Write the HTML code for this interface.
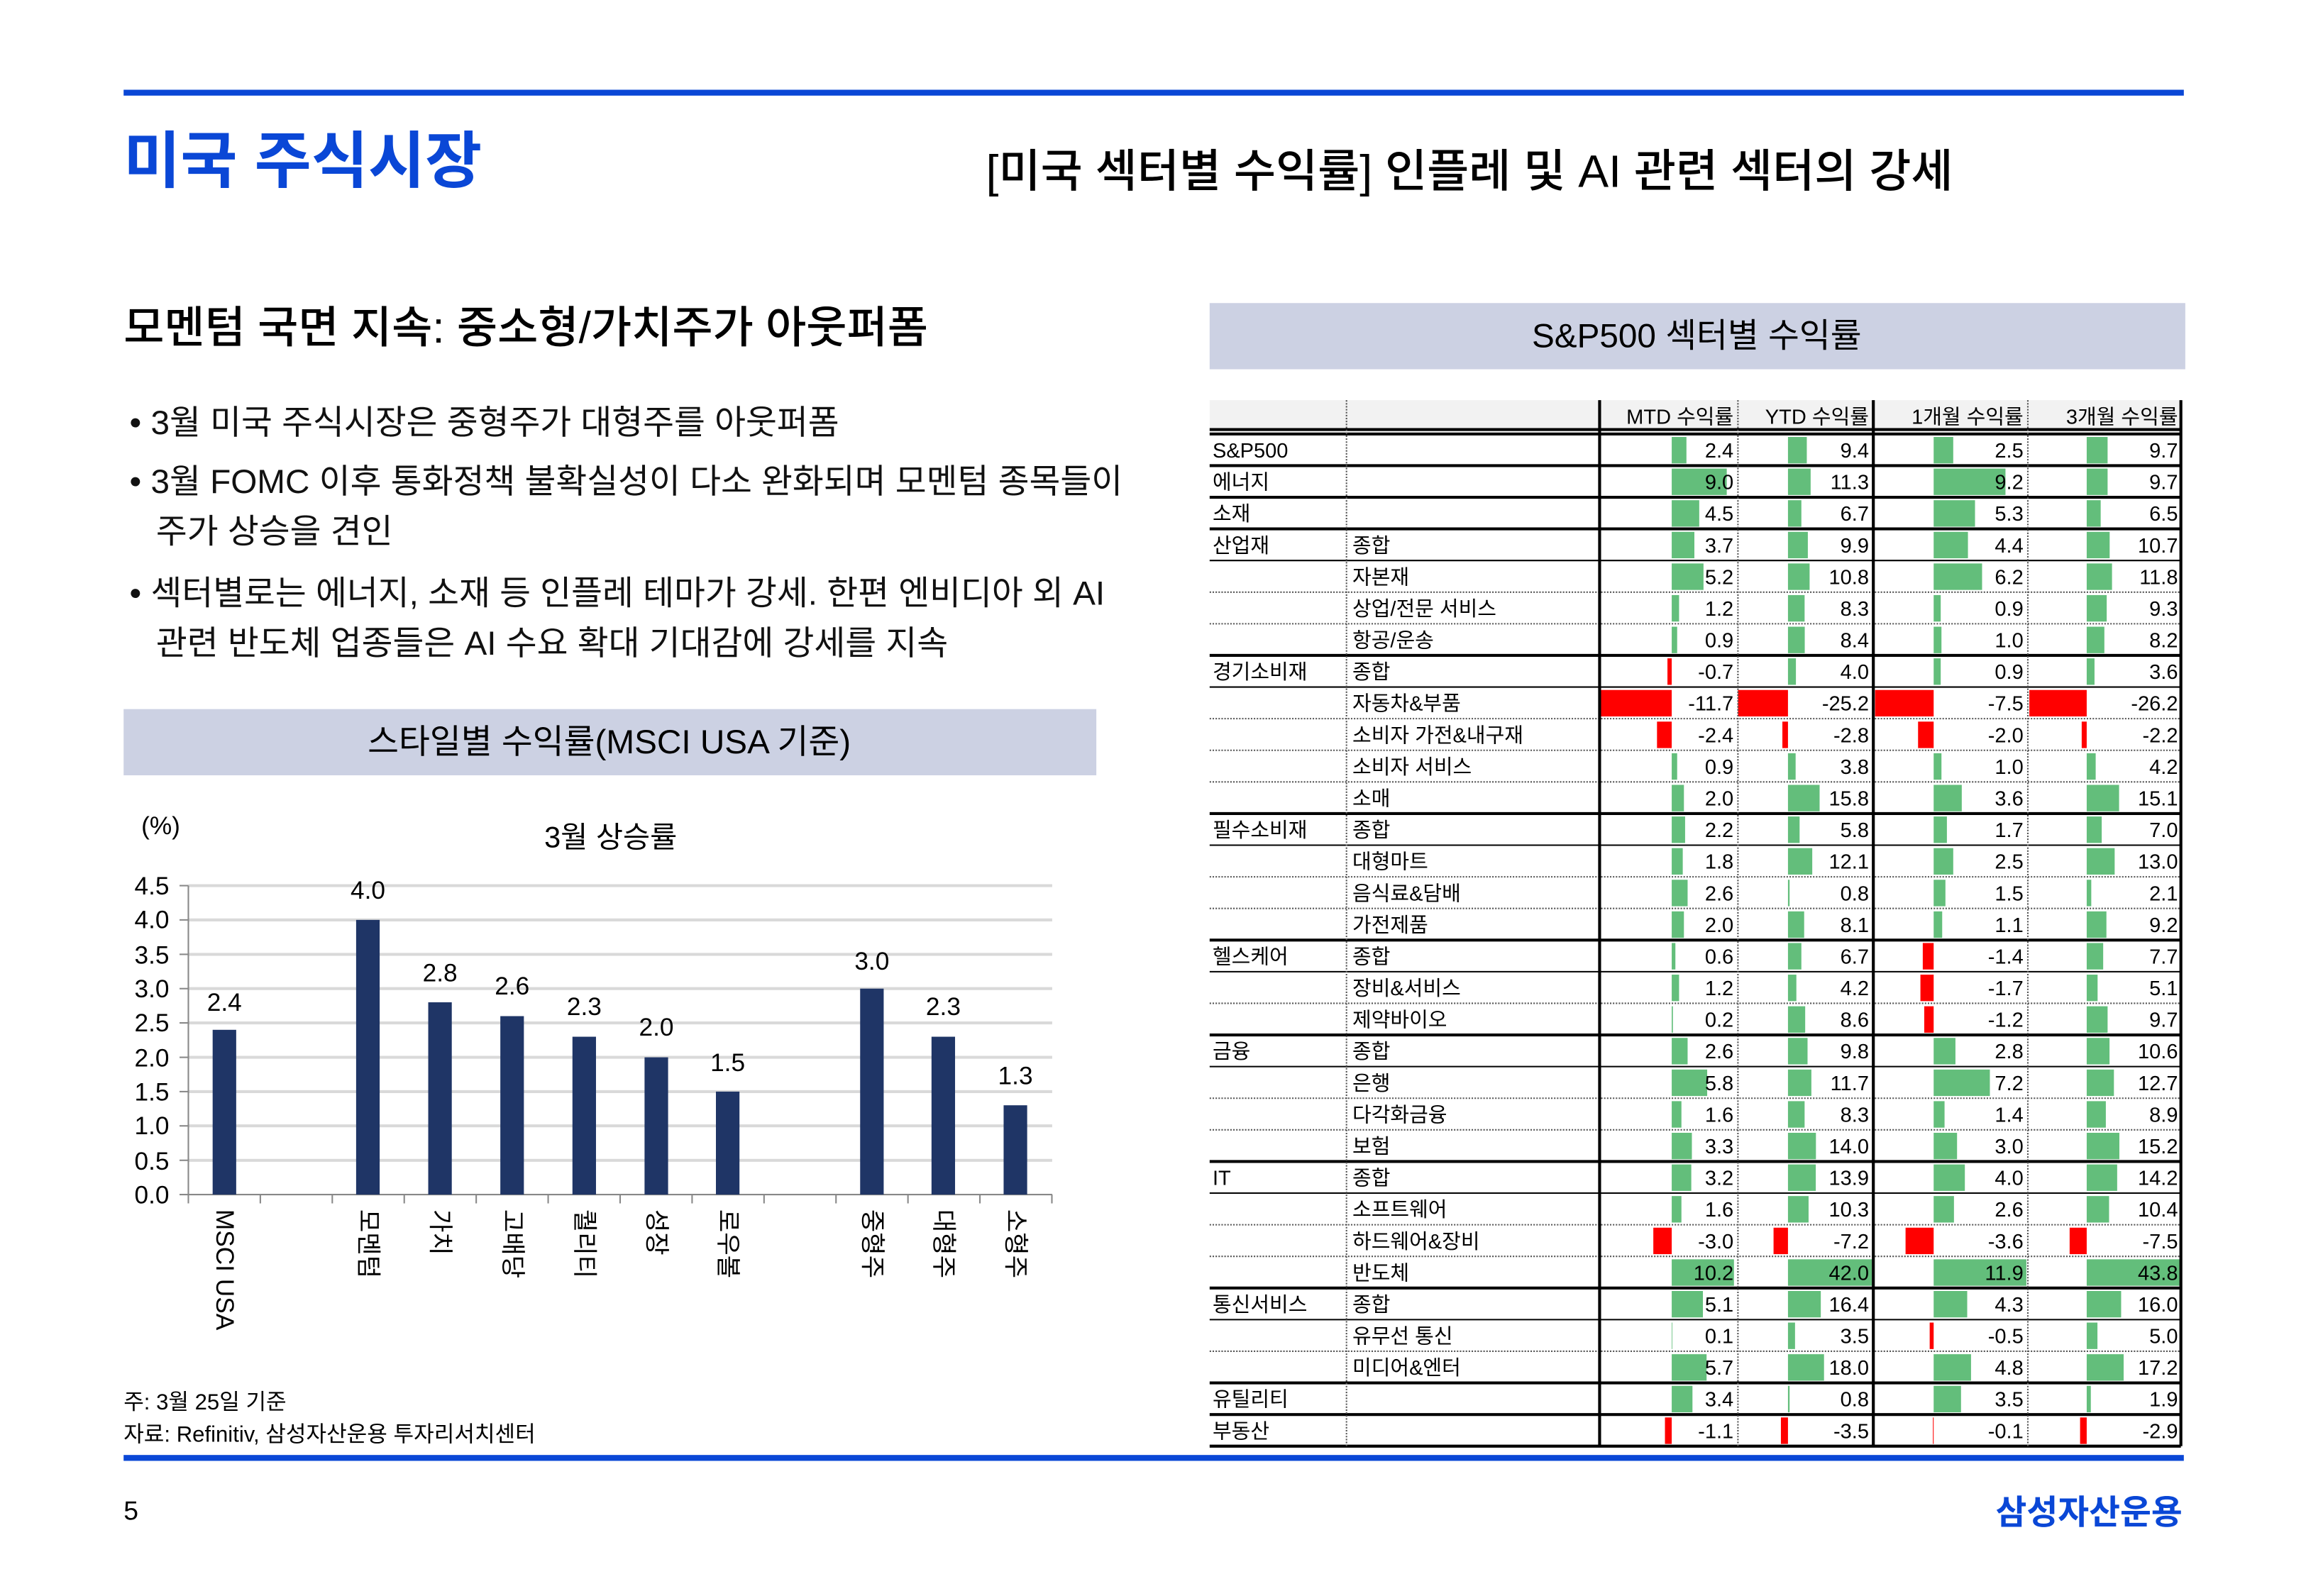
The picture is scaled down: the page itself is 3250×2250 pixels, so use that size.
<!DOCTYPE html>
<html><head><meta charset="utf-8">
<style>
html,body{margin:0;padding:0;background:#fff;}
body{width:3250px;height:2250px;overflow:hidden;}
#w{position:absolute;left:0;top:0;width:1560px;height:1080px;transform:scale(2.074);transform-origin:0 0;}
svg text{font-family:"Liberation Sans","Noto Sans CJK KR",sans-serif;}
.t text{font-family:"Liberation Sans Narrow","Liberation Sans","Noto Sans CJK KR",sans-serif;font-size:14px;fill:#000;}
.t text.v{text-anchor:end;}
.g{fill:#63be7b;}
.r{fill:#ff0000;}
</style></head><body><div id="w">
<svg width="1560" height="1080" viewBox="0 0 1560 1080" xmlns="http://www.w3.org/2000/svg">
<rect x="84" y="61" width="1400" height="4" fill="#0a47d6"/>
<text x="84" y="124" font-size="42" font-weight="bold" fill="#0a47d6">미국 주식시장</text>
<text x="670" y="127" font-size="31" fill="#000" font-weight="500">[미국 섹터별 수익률] 인플레 및 AI 관련 섹터의 강세</text>
<text x="84" y="233" font-size="30" fill="#000" font-weight="500">모멘텀 국면 지속: 중소형/가치주가 아웃퍼폼</text>
<g font-size="23" fill="#111">
<text x="88" y="295">• 3월 미국 주식시장은 중형주가 대형주를 아웃퍼폼</text>
<text x="88" y="335">• 3월 FOMC 이후 통화정책 불확실성이 다소 완화되며 모멘텀 종목들이</text>
<text x="106" y="369">주가 상승을 견인</text>
<text x="88" y="411">• 섹터별로는 에너지, 소재 등 인플레 테마가 강세. 한편 엔비디아 외 AI</text>
<text x="106" y="445">관련 반도체 업종들은 AI 수요 확대 기대감에 강세를 지속</text>
</g>
<rect x="84" y="482" width="661" height="45" fill="#ccd1e3"/>
<text x="414" y="512" font-size="23" text-anchor="middle" fill="#000">스타일별 수익률(MSCI USA 기준)</text>
<!-- bar chart -->
<text x="96" y="567" font-size="17" fill="#000">(%)</text>
<text x="415" y="576" font-size="20" text-anchor="middle" fill="#000">3월 상승률</text>
<g stroke="#d9d9d9" stroke-width="2">
<line x1="128" x2="715" y1="602" y2="602"/><line x1="128" x2="715" y1="625.3" y2="625.3"/><line x1="128" x2="715" y1="648.7" y2="648.7"/><line x1="128" x2="715" y1="672" y2="672"/><line x1="128" x2="715" y1="695.3" y2="695.3"/><line x1="128" x2="715" y1="718.7" y2="718.7"/><line x1="128" x2="715" y1="742" y2="742"/><line x1="128" x2="715" y1="765.3" y2="765.3"/><line x1="128" x2="715" y1="788.7" y2="788.7"/>
</g>
<g font-size="17" text-anchor="end" fill="#000">
<text x="115" y="608">4.5</text><text x="115" y="631">4.0</text><text x="115" y="655">3.5</text><text x="115" y="678">3.0</text><text x="115" y="701">2.5</text><text x="115" y="725">2.0</text><text x="115" y="748">1.5</text><text x="115" y="771">1.0</text><text x="115" y="795">0.5</text><text x="115" y="818">0.0</text>
</g>
<g stroke="#888" stroke-width="1">
<line x1="128" x2="128" y1="602" y2="818"/>
<line x1="122" x2="128" y1="602" y2="602"/><line x1="122" x2="128" y1="625.3" y2="625.3"/><line x1="122" x2="128" y1="648.7" y2="648.7"/><line x1="122" x2="128" y1="672" y2="672"/><line x1="122" x2="128" y1="695.3" y2="695.3"/><line x1="122" x2="128" y1="718.7" y2="718.7"/><line x1="122" x2="128" y1="742" y2="742"/><line x1="122" x2="128" y1="765.3" y2="765.3"/><line x1="122" x2="128" y1="788.7" y2="788.7"/>
<line x1="122" x2="715" y1="812" y2="812"/>
<line x1="176.9" x2="176.9" y1="812" y2="818"/><line x1="225.8" x2="225.8" y1="812" y2="818"/><line x1="274.7" x2="274.7" y1="812" y2="818"/><line x1="323.6" x2="323.6" y1="812" y2="818"/><line x1="372.5" x2="372.5" y1="812" y2="818"/><line x1="421.4" x2="421.4" y1="812" y2="818"/><line x1="470.3" x2="470.3" y1="812" y2="818"/><line x1="519.2" x2="519.2" y1="812" y2="818"/><line x1="568.1" x2="568.1" y1="812" y2="818"/><line x1="617" x2="617" y1="812" y2="818"/><line x1="665.9" x2="665.9" y1="812" y2="818"/><line x1="714.8" x2="714.8" y1="812" y2="818"/>
</g>
<g fill="#1f3566">
<rect x="144.5" y="700" width="16" height="112"/>
<rect x="242" y="625.3" width="16" height="186.7"/>
<rect x="291" y="681.3" width="16" height="130.7"/>
<rect x="340" y="690.7" width="16" height="121.3"/>
<rect x="389" y="704.7" width="16" height="107.3"/>
<rect x="438" y="718.7" width="16" height="93.3"/>
<rect x="486.5" y="742" width="16" height="70"/>
<rect x="584.5" y="672" width="16" height="140"/>
<rect x="633" y="704.7" width="16" height="107.3"/>
<rect x="682" y="751.3" width="16" height="60.7"/>
</g>
<g font-size="17" text-anchor="middle" fill="#000">
<text x="152.5" y="687">2.4</text><text x="250" y="611">4.0</text><text x="299" y="667">2.8</text><text x="348" y="676">2.6</text><text x="397" y="690">2.3</text><text x="446" y="704">2.0</text><text x="494.5" y="728">1.5</text><text x="592.5" y="659">3.0</text><text x="641" y="690">2.3</text><text x="690" y="737">1.3</text>
</g>
<g font-size="17" fill="#000" dominant-baseline="central">
<text transform="translate(152.5,822) rotate(90)">MSCI USA</text>
<text transform="translate(250,822) rotate(90)">모멘텀</text>
<text transform="translate(299,822) rotate(90)">가치</text>
<text transform="translate(348,822) rotate(90)">고배당</text>
<text transform="translate(397,822) rotate(90)">퀄리티</text>
<text transform="translate(446,822) rotate(90)">성장</text>
<text transform="translate(494.5,822) rotate(90)">로우볼</text>
<text transform="translate(592.5,822) rotate(90)">중형주</text>
<text transform="translate(641,822) rotate(90)">대형주</text>
<text transform="translate(690,822) rotate(90)">소형주</text>
</g>
<text x="84" y="958" font-size="15" fill="#000">주: 3월 25일 기준</text>
<text x="84" y="980" font-size="15" fill="#000">자료: Refinitiv, 삼성자산운용 투자리서치센터</text>
<!-- right -->
<rect x="822" y="206" width="663" height="45" fill="#ccd1e3"/>
<text x="1153" y="236" font-size="23" text-anchor="middle" fill="#000">S&amp;P500 섹터별 수익률</text>
<rect x="822" y="272" width="660" height="21" fill="#f2f2f2"/>
<g class="t">
<text class="v" x="1178" y="288">MTD 수익률</text><text class="v" x="1270" y="288">YTD 수익률</text><text class="v" x="1375" y="288">1개월 수익률</text><text class="v" x="1480" y="288">3개월 수익률</text>
<g transform="translate(0,295)"><text x="824" y="16">S&amp;P500</text><rect class="g" x="1136" y="2" width="10" height="18"/><rect class="g" x="1215" y="2" width="12.8" height="18"/><rect class="g" x="1314" y="2" width="13.3" height="18"/><rect class="g" x="1418" y="2" width="14.2" height="18"/><text class="v" x="1178" y="16">2.4</text><text class="v" x="1270" y="16">9.4</text><text class="v" x="1375" y="16">2.5</text><text class="v" x="1480" y="16">9.7</text></g>
<g transform="translate(0,316.5)"><text x="824" y="16">에너지</text><rect class="g" x="1136" y="2" width="37.4" height="18"/><rect class="g" x="1215" y="2" width="15.4" height="18"/><rect class="g" x="1314" y="2" width="48.8" height="18"/><rect class="g" x="1418" y="2" width="14.2" height="18"/><text class="v" x="1178" y="16">9.0</text><text class="v" x="1270" y="16">11.3</text><text class="v" x="1375" y="16">9.2</text><text class="v" x="1480" y="16">9.7</text></g>
<g transform="translate(0,338)"><text x="824" y="16">소재</text><rect class="g" x="1136" y="2" width="18.7" height="18"/><rect class="g" x="1215" y="2" width="9.1" height="18"/><rect class="g" x="1314" y="2" width="28.1" height="18"/><rect class="g" x="1418" y="2" width="9.5" height="18"/><text class="v" x="1178" y="16">4.5</text><text class="v" x="1270" y="16">6.7</text><text class="v" x="1375" y="16">5.3</text><text class="v" x="1480" y="16">6.5</text></g>
<g transform="translate(0,359.5)"><text x="824" y="16">산업재</text><text x="919" y="16">종합</text><rect class="g" x="1136" y="2" width="15.4" height="18"/><rect class="g" x="1215" y="2" width="13.5" height="18"/><rect class="g" x="1314" y="2" width="23.3" height="18"/><rect class="g" x="1418" y="2" width="15.6" height="18"/><text class="v" x="1178" y="16">3.7</text><text class="v" x="1270" y="16">9.9</text><text class="v" x="1375" y="16">4.4</text><text class="v" x="1480" y="16">10.7</text></g>
<g transform="translate(0,381)"><text x="919" y="16">자본재</text><rect class="g" x="1136" y="2" width="21.6" height="18"/><rect class="g" x="1215" y="2" width="14.7" height="18"/><rect class="g" x="1314" y="2" width="32.9" height="18"/><rect class="g" x="1418" y="2" width="17.2" height="18"/><text class="v" x="1178" y="16">5.2</text><text class="v" x="1270" y="16">10.8</text><text class="v" x="1375" y="16">6.2</text><text class="v" x="1480" y="16">11.8</text></g>
<g transform="translate(0,402.5)"><text x="919" y="16">상업/전문 서비스</text><rect class="g" x="1136" y="2" width="5" height="18"/><rect class="g" x="1215" y="2" width="11.3" height="18"/><rect class="g" x="1314" y="2" width="4.8" height="18"/><rect class="g" x="1418" y="2" width="13.6" height="18"/><text class="v" x="1178" y="16">1.2</text><text class="v" x="1270" y="16">8.3</text><text class="v" x="1375" y="16">0.9</text><text class="v" x="1480" y="16">9.3</text></g>
<g transform="translate(0,424)"><text x="919" y="16">항공/운송</text><rect class="g" x="1136" y="2" width="3.7" height="18"/><rect class="g" x="1215" y="2" width="11.4" height="18"/><rect class="g" x="1314" y="2" width="5.3" height="18"/><rect class="g" x="1418" y="2" width="12" height="18"/><text class="v" x="1178" y="16">0.9</text><text class="v" x="1270" y="16">8.4</text><text class="v" x="1375" y="16">1.0</text><text class="v" x="1480" y="16">8.2</text></g>
<g transform="translate(0,445.5)"><text x="824" y="16">경기소비재</text><text x="919" y="16">종합</text><rect class="r" x="1133.1" y="2" width="2.9" height="18"/><rect class="g" x="1215" y="2" width="5.4" height="18"/><rect class="g" x="1314" y="2" width="4.8" height="18"/><rect class="g" x="1418" y="2" width="5.3" height="18"/><text class="v" x="1178" y="16">-0.7</text><text class="v" x="1270" y="16">4.0</text><text class="v" x="1375" y="16">0.9</text><text class="v" x="1480" y="16">3.6</text></g>
<g transform="translate(0,467)"><text x="919" y="16">자동차&amp;부품</text><rect class="r" x="1088" y="2" width="48" height="18"/><rect class="r" x="1181" y="2" width="34" height="18"/><rect class="r" x="1274.2" y="2" width="39.8" height="18"/><rect class="r" x="1379" y="2" width="39" height="18"/><text class="v" x="1178" y="16">-11.7</text><text class="v" x="1270" y="16">-25.2</text><text class="v" x="1375" y="16">-7.5</text><text class="v" x="1480" y="16">-26.2</text></g>
<g transform="translate(0,488.5)"><text x="919" y="16">소비자 가전&amp;내구재</text><rect class="r" x="1126" y="2" width="10" height="18"/><rect class="r" x="1211.2" y="2" width="3.8" height="18"/><rect class="r" x="1303.4" y="2" width="10.6" height="18"/><rect class="r" x="1414.6" y="2" width="3.4" height="18"/><text class="v" x="1178" y="16">-2.4</text><text class="v" x="1270" y="16">-2.8</text><text class="v" x="1375" y="16">-2.0</text><text class="v" x="1480" y="16">-2.2</text></g>
<g transform="translate(0,510)"><text x="919" y="16">소비자 서비스</text><rect class="g" x="1136" y="2" width="3.7" height="18"/><rect class="g" x="1215" y="2" width="5.2" height="18"/><rect class="g" x="1314" y="2" width="5.3" height="18"/><rect class="g" x="1418" y="2" width="6.1" height="18"/><text class="v" x="1178" y="16">0.9</text><text class="v" x="1270" y="16">3.8</text><text class="v" x="1375" y="16">1.0</text><text class="v" x="1480" y="16">4.2</text></g>
<g transform="translate(0,531.5)"><text x="919" y="16">소매</text><rect class="g" x="1136" y="2" width="8.3" height="18"/><rect class="g" x="1215" y="2" width="21.5" height="18"/><rect class="g" x="1314" y="2" width="19.1" height="18"/><rect class="g" x="1418" y="2" width="22" height="18"/><text class="v" x="1178" y="16">2.0</text><text class="v" x="1270" y="16">15.8</text><text class="v" x="1375" y="16">3.6</text><text class="v" x="1480" y="16">15.1</text></g>
<g transform="translate(0,553)"><text x="824" y="16">필수소비재</text><text x="919" y="16">종합</text><rect class="g" x="1136" y="2" width="9.1" height="18"/><rect class="g" x="1215" y="2" width="7.9" height="18"/><rect class="g" x="1314" y="2" width="9" height="18"/><rect class="g" x="1418" y="2" width="10.2" height="18"/><text class="v" x="1178" y="16">2.2</text><text class="v" x="1270" y="16">5.8</text><text class="v" x="1375" y="16">1.7</text><text class="v" x="1480" y="16">7.0</text></g>
<g transform="translate(0,574.5)"><text x="919" y="16">대형마트</text><rect class="g" x="1136" y="2" width="7.5" height="18"/><rect class="g" x="1215" y="2" width="16.5" height="18"/><rect class="g" x="1314" y="2" width="13.3" height="18"/><rect class="g" x="1418" y="2" width="19" height="18"/><text class="v" x="1178" y="16">1.8</text><text class="v" x="1270" y="16">12.1</text><text class="v" x="1375" y="16">2.5</text><text class="v" x="1480" y="16">13.0</text></g>
<g transform="translate(0,596)"><text x="919" y="16">음식료&amp;담배</text><rect class="g" x="1136" y="2" width="10.8" height="18"/><rect class="g" x="1215" y="2" width="1.1" height="18"/><rect class="g" x="1314" y="2" width="8" height="18"/><rect class="g" x="1418" y="2" width="3.1" height="18"/><text class="v" x="1178" y="16">2.6</text><text class="v" x="1270" y="16">0.8</text><text class="v" x="1375" y="16">1.5</text><text class="v" x="1480" y="16">2.1</text></g>
<g transform="translate(0,617.5)"><text x="919" y="16">가전제품</text><rect class="g" x="1136" y="2" width="8.3" height="18"/><rect class="g" x="1215" y="2" width="11" height="18"/><rect class="g" x="1314" y="2" width="5.8" height="18"/><rect class="g" x="1418" y="2" width="13.4" height="18"/><text class="v" x="1178" y="16">2.0</text><text class="v" x="1270" y="16">8.1</text><text class="v" x="1375" y="16">1.1</text><text class="v" x="1480" y="16">9.2</text></g>
<g transform="translate(0,639)"><text x="824" y="16">헬스케어</text><text x="919" y="16">종합</text><rect class="g" x="1136" y="2" width="2.5" height="18"/><rect class="g" x="1215" y="2" width="9.1" height="18"/><rect class="r" x="1306.6" y="2" width="7.4" height="18"/><rect class="g" x="1418" y="2" width="11.2" height="18"/><text class="v" x="1178" y="16">0.6</text><text class="v" x="1270" y="16">6.7</text><text class="v" x="1375" y="16">-1.4</text><text class="v" x="1480" y="16">7.7</text></g>
<g transform="translate(0,660.5)"><text x="919" y="16">장비&amp;서비스</text><rect class="g" x="1136" y="2" width="5" height="18"/><rect class="g" x="1215" y="2" width="5.7" height="18"/><rect class="r" x="1305" y="2" width="9" height="18"/><rect class="g" x="1418" y="2" width="7.4" height="18"/><text class="v" x="1178" y="16">1.2</text><text class="v" x="1270" y="16">4.2</text><text class="v" x="1375" y="16">-1.7</text><text class="v" x="1480" y="16">5.1</text></g>
<g transform="translate(0,682)"><text x="919" y="16">제약바이오</text><rect class="g" x="1136" y="2" width="0.8" height="18"/><rect class="g" x="1215" y="2" width="11.7" height="18"/><rect class="r" x="1307.6" y="2" width="6.4" height="18"/><rect class="g" x="1418" y="2" width="14.2" height="18"/><text class="v" x="1178" y="16">0.2</text><text class="v" x="1270" y="16">8.6</text><text class="v" x="1375" y="16">-1.2</text><text class="v" x="1480" y="16">9.7</text></g>
<g transform="translate(0,703.5)"><text x="824" y="16">금융</text><text x="919" y="16">종합</text><rect class="g" x="1136" y="2" width="10.8" height="18"/><rect class="g" x="1215" y="2" width="13.3" height="18"/><rect class="g" x="1314" y="2" width="14.8" height="18"/><rect class="g" x="1418" y="2" width="15.5" height="18"/><text class="v" x="1178" y="16">2.6</text><text class="v" x="1270" y="16">9.8</text><text class="v" x="1375" y="16">2.8</text><text class="v" x="1480" y="16">10.6</text></g>
<g transform="translate(0,725)"><text x="919" y="16">은행</text><rect class="g" x="1136" y="2" width="24.1" height="18"/><rect class="g" x="1215" y="2" width="15.9" height="18"/><rect class="g" x="1314" y="2" width="38.2" height="18"/><rect class="g" x="1418" y="2" width="18.5" height="18"/><text class="v" x="1178" y="16">5.8</text><text class="v" x="1270" y="16">11.7</text><text class="v" x="1375" y="16">7.2</text><text class="v" x="1480" y="16">12.7</text></g>
<g transform="translate(0,746.5)"><text x="919" y="16">다각화금융</text><rect class="g" x="1136" y="2" width="6.6" height="18"/><rect class="g" x="1215" y="2" width="11.3" height="18"/><rect class="g" x="1314" y="2" width="7.4" height="18"/><rect class="g" x="1418" y="2" width="13" height="18"/><text class="v" x="1178" y="16">1.6</text><text class="v" x="1270" y="16">8.3</text><text class="v" x="1375" y="16">1.4</text><text class="v" x="1480" y="16">8.9</text></g>
<g transform="translate(0,768)"><text x="919" y="16">보험</text><rect class="g" x="1136" y="2" width="13.7" height="18"/><rect class="g" x="1215" y="2" width="19" height="18"/><rect class="g" x="1314" y="2" width="15.9" height="18"/><rect class="g" x="1418" y="2" width="22.2" height="18"/><text class="v" x="1178" y="16">3.3</text><text class="v" x="1270" y="16">14.0</text><text class="v" x="1375" y="16">3.0</text><text class="v" x="1480" y="16">15.2</text></g>
<g transform="translate(0,789.5)"><text x="824" y="16">IT</text><text x="919" y="16">종합</text><rect class="g" x="1136" y="2" width="13.3" height="18"/><rect class="g" x="1215" y="2" width="18.9" height="18"/><rect class="g" x="1314" y="2" width="21.2" height="18"/><rect class="g" x="1418" y="2" width="20.7" height="18"/><text class="v" x="1178" y="16">3.2</text><text class="v" x="1270" y="16">13.9</text><text class="v" x="1375" y="16">4.0</text><text class="v" x="1480" y="16">14.2</text></g>
<g transform="translate(0,811)"><text x="919" y="16">소프트웨어</text><rect class="g" x="1136" y="2" width="6.6" height="18"/><rect class="g" x="1215" y="2" width="14" height="18"/><rect class="g" x="1314" y="2" width="13.8" height="18"/><rect class="g" x="1418" y="2" width="15.2" height="18"/><text class="v" x="1178" y="16">1.6</text><text class="v" x="1270" y="16">10.3</text><text class="v" x="1375" y="16">2.6</text><text class="v" x="1480" y="16">10.4</text></g>
<g transform="translate(0,832.5)"><text x="919" y="16">하드웨어&amp;장비</text><rect class="r" x="1123.5" y="2" width="12.5" height="18"/><rect class="r" x="1205.2" y="2" width="9.8" height="18"/><rect class="r" x="1294.9" y="2" width="19.1" height="18"/><rect class="r" x="1406.4" y="2" width="11.6" height="18"/><text class="v" x="1178" y="16">-3.0</text><text class="v" x="1270" y="16">-7.2</text><text class="v" x="1375" y="16">-3.6</text><text class="v" x="1480" y="16">-7.5</text></g>
<g transform="translate(0,854)"><text x="919" y="16">반도체</text><rect class="g" x="1136" y="2" width="42.3" height="18"/><rect class="g" x="1215" y="2" width="57" height="18"/><rect class="g" x="1314" y="2" width="63" height="18"/><rect class="g" x="1418" y="2" width="63.5" height="18"/><text class="v" x="1178" y="16">10.2</text><text class="v" x="1270" y="16">42.0</text><text class="v" x="1375" y="16">11.9</text><text class="v" x="1480" y="16">43.8</text></g>
<g transform="translate(0,875.5)"><text x="824" y="16">통신서비스</text><text x="919" y="16">종합</text><rect class="g" x="1136" y="2" width="21.2" height="18"/><rect class="g" x="1215" y="2" width="22.3" height="18"/><rect class="g" x="1314" y="2" width="22.8" height="18"/><rect class="g" x="1418" y="2" width="23.4" height="18"/><text class="v" x="1178" y="16">5.1</text><text class="v" x="1270" y="16">16.4</text><text class="v" x="1375" y="16">4.3</text><text class="v" x="1480" y="16">16.0</text></g>
<g transform="translate(0,897)"><text x="919" y="16">유무선 통신</text><rect class="g" x="1136" y="2" width="0.4" height="18"/><rect class="g" x="1215" y="2" width="4.8" height="18"/><rect class="r" x="1311.3" y="2" width="2.7" height="18"/><rect class="g" x="1418" y="2" width="7.3" height="18"/><text class="v" x="1178" y="16">0.1</text><text class="v" x="1270" y="16">3.5</text><text class="v" x="1375" y="16">-0.5</text><text class="v" x="1480" y="16">5.0</text></g>
<g transform="translate(0,918.5)"><text x="919" y="16">미디어&amp;엔터</text><rect class="g" x="1136" y="2" width="23.7" height="18"/><rect class="g" x="1215" y="2" width="24.5" height="18"/><rect class="g" x="1314" y="2" width="25.4" height="18"/><rect class="g" x="1418" y="2" width="25.1" height="18"/><text class="v" x="1178" y="16">5.7</text><text class="v" x="1270" y="16">18.0</text><text class="v" x="1375" y="16">4.8</text><text class="v" x="1480" y="16">17.2</text></g>
<g transform="translate(0,940)"><text x="824" y="16">유틸리티</text><rect class="g" x="1136" y="2" width="14.1" height="18"/><rect class="g" x="1215" y="2" width="1.1" height="18"/><rect class="g" x="1314" y="2" width="18.6" height="18"/><rect class="g" x="1418" y="2" width="2.8" height="18"/><text class="v" x="1178" y="16">3.4</text><text class="v" x="1270" y="16">0.8</text><text class="v" x="1375" y="16">3.5</text><text class="v" x="1480" y="16">1.9</text></g>
<g transform="translate(0,961.5)"><text x="824" y="16">부동산</text><rect class="r" x="1131.4" y="2" width="4.6" height="18"/><rect class="r" x="1210.2" y="2" width="4.8" height="18"/><rect class="r" x="1313.5" y="2" width="0.5" height="18"/><rect class="r" x="1413.5" y="2" width="4.5" height="18"/><text class="v" x="1178" y="16">-1.1</text><text class="v" x="1270" y="16">-3.5</text><text class="v" x="1375" y="16">-0.1</text><text class="v" x="1480" y="16">-2.9</text></g>
</g>
<!-- table lines -->
<g stroke="#000" stroke-width="2">
<line x1="822" x2="1482" y1="292" y2="292"/><line x1="822" x2="1482" y1="295" y2="295"/>
<line x1="822" x2="1482" y1="316.5" y2="316.5"/><line x1="822" x2="1482" y1="338" y2="338"/><line x1="822" x2="1482" y1="359.5" y2="359.5"/>
<line x1="822" x2="1482" y1="445.5" y2="445.5"/><line x1="822" x2="1482" y1="553" y2="553"/><line x1="822" x2="1482" y1="639" y2="639"/><line x1="822" x2="1482" y1="703.5" y2="703.5"/><line x1="822" x2="1482" y1="789.5" y2="789.5"/><line x1="822" x2="1482" y1="875.5" y2="875.5"/><line x1="822" x2="1482" y1="940" y2="940"/><line x1="822" x2="1482" y1="961.5" y2="961.5"/><line x1="822" x2="1482" y1="983" y2="983"/>
</g>
<g stroke="#000" stroke-width="1">
<line x1="822" x2="1482" y1="381" y2="381"/><line x1="822" x2="1482" y1="467" y2="467"/><line x1="822" x2="1482" y1="574.5" y2="574.5"/><line x1="822" x2="1482" y1="660.5" y2="660.5"/><line x1="822" x2="1482" y1="725" y2="725"/><line x1="822" x2="1482" y1="811" y2="811"/><line x1="822" x2="1482" y1="897" y2="897"/>
</g>
<g stroke="#555" stroke-width="1" stroke-dasharray="1,1">
<line x1="822" x2="1482" y1="402.5" y2="402.5"/><line x1="822" x2="1482" y1="424" y2="424"/><line x1="822" x2="1482" y1="488.5" y2="488.5"/><line x1="822" x2="1482" y1="510" y2="510"/><line x1="822" x2="1482" y1="531.5" y2="531.5"/><line x1="822" x2="1482" y1="596" y2="596"/><line x1="822" x2="1482" y1="617.5" y2="617.5"/><line x1="822" x2="1482" y1="682" y2="682"/><line x1="822" x2="1482" y1="746.5" y2="746.5"/><line x1="822" x2="1482" y1="768" y2="768"/><line x1="822" x2="1482" y1="832.5" y2="832.5"/><line x1="822" x2="1482" y1="854" y2="854"/><line x1="822" x2="1482" y1="918.5" y2="918.5"/>
<line x1="915" x2="915" y1="272" y2="983"/><line x1="1181" x2="1181" y1="272" y2="983"/><line x1="1378" x2="1378" y1="272" y2="983"/>
</g>
<g stroke="#000" stroke-width="2">
<line x1="1087" x2="1087" y1="272" y2="983"/><line x1="1273" x2="1273" y1="272" y2="983"/><line x1="1482" x2="1482" y1="272" y2="983"/>
</g>
<rect x="84" y="989" width="1400" height="4" fill="#0a47d6"/>
<text x="84" y="1033" font-size="18" fill="#000">5</text>
<text x="1483" y="1036" font-size="23" font-weight="bold" text-anchor="end" fill="#0a47d6">삼성자산운용</text>
</svg>
</div></body></html>
